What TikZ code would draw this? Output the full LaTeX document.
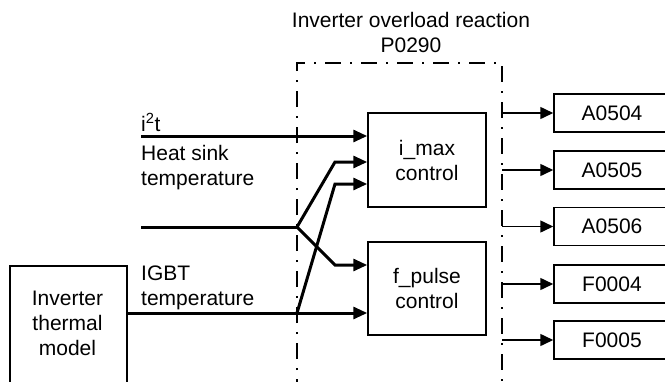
\documentclass[tikz,border=0pt]{standalone}
\usepackage{fontspec}
\setmainfont{Liberation Sans}
\usetikzlibrary{arrows.meta}
\begin{document}
\begin{tikzpicture}[x=1pt,y=-1pt,
  every node/.style={font=\fontsize{21}{25}\selectfont, inner sep=0pt},
  box/.style={draw, line width=1.5pt, align=center},
  txt/.style={anchor=base west},
  heavy/.style={line width=3pt, -{Triangle[length=14pt,width=12pt]}},
  plainheavy/.style={line width=3pt},
  outarrow/.style={line width=1.5pt, -{Triangle[length=13pt,width=12pt]}},
  frame/.style={line width=2pt, dash pattern=on 16pt off 9pt on 2pt off 9pt}
]
\clip (0,0) rectangle (665,381);
\useasboundingbox (0,0) rectangle (665,381);

% title
\node[anchor=base] (title1) at (411,27) {Inverter overload reaction};
\node[anchor=base] (title2) at (411,52) {P0290};

% control blocks
\node[box, minimum width=118, minimum height=94] (imax) at (427,160) {i\_max\\control};
\node[box, minimum width=118, minimum height=93] (fpulse) at (427,288.5) {f\_pulse\\control};

% output boxes
\node[box, minimum width=116, minimum height=38] (o1) at (612,113) {A0504};
\node[box, minimum width=116, minimum height=38] (o2) at (612,170) {A0505};
\node[box, minimum width=116, minimum height=38] (o3) at (612,226.5) {A0506};
\node[box, minimum width=116, minimum height=38] (o4) at (612,284) {F0004};
\node[box, minimum width=116, minimum height=38] (o5) at (612,340) {F0005};

% thermal model
\node[box, minimum width=117, minimum height=135, anchor=north west] (model) at (9,265) {};
\node[anchor=base] (m1) at (67.5,305) {Inverter};
\node[anchor=base] (m2) at (67.5,330) {thermal};
\node[anchor=base] (m3) at (67.5,355) {model};

% side labels
\node[txt] (l1) at (141,131) {i\textsuperscript{2}t};
\node[txt] (l2) at (141,160) {Heat sink};
\node[txt] (l3) at (141,185) {temperature};
\node[txt] (l4) at (141,280) {IGBT};
\node[txt] (l5) at (141,305) {temperature};

% coordinates
\coordinate (sT) at (141,136);
\coordinate (sM) at (141,227);
\coordinate (jM) at (297,227);
\coordinate (jI) at (297,313);
\coordinate (bU) at (335,162);
\coordinate (bD) at (335,265);
\coordinate (bI) at (335,184);
\coordinate (fTL) at (297,63);
\coordinate (fTR) at (502,63);
\coordinate (fBL) at (297,395);
\coordinate (fBR) at (502,395);

% dashed frame
\draw[frame] (fBL) -- (fTL) -- (fTR) -- (fBR);

% signal lines
\draw[heavy] (sT) -- (imax.west |- sT);
\draw[plainheavy] (sM) -- (jM);
\draw[heavy] (jM) -- (bU) -- (imax.west |- bU);
\draw[heavy] (jM) -- (bD) -- (fpulse.west |- bD);
\draw[heavy] (model.east |- jI) -- (fpulse.west |- jI);
\draw[heavy] (jI) -- (bI) -- (imax.west |- bI);

% outputs
\draw[outarrow] (o1.west -| fTR) -- (o1.west);
\draw[outarrow] (o2.west -| fTR) -- (o2.west);
\draw[outarrow] (o3.west -| fTR) -- (o3.west);
\draw[outarrow] (o4.west -| fTR) -- (o4.west);
\draw[outarrow] (o5.west -| fTR) -- (o5.west);
\end{tikzpicture}
\end{document}
